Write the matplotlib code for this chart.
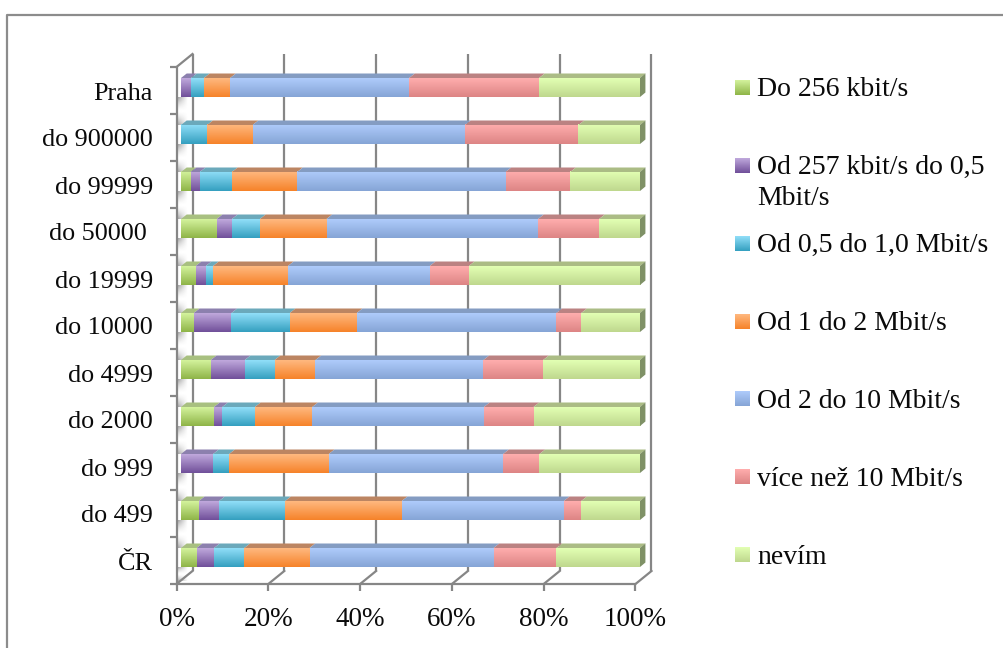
import numpy as np
import matplotlib
matplotlib.use('Agg')
import matplotlib.pyplot as plt
from matplotlib.colors import LinearSegmentedColormap
from matplotlib.lines import Line2D
from matplotlib.patches import Polygon

plt.rcParams['font.family'] = ['Liberation Serif', 'DejaVu Serif']

# data, bottom row first
categories = ['ČR', 'do 499', 'do 999', 'do 2000', 'do 4999', 'do 10000', 'do 19999',
              'do 50000 ', 'do 99999', 'do 900000', 'Praha']
do_256 = [3.4, 3.9, 0, 7.2, 6.5, 2.8, 3.2, 7.8, 2.1, 0, 0]
od_257 = [3.8, 4.4, 7.0, 1.8, 7.4, 8.2, 2.2, 3.3, 2.0, 0, 2.2]
od_05 = [6.6, 14.4, 3.5, 7.1, 6.5, 12.7, 1.6, 6.1, 7.0, 5.7, 2.8]
od_1 = [14.2, 25.4, 21.7, 12.5, 8.9, 14.6, 16.3, 14.5, 14.2, 9.9, 5.7]
od_2 = [40.1, 35.3, 38.0, 37.4, 36.6, 43.5, 30.9, 46.1, 45.4, 46.3, 39.0]
vice_10 = [13.7, 3.8, 7.9, 10.8, 13.0, 5.4, 8.5, 13.3, 14.1, 24.7, 28.3]
nevim = [18.2, 12.8, 21.9, 23.2, 21.1, 12.8, 37.3, 8.9, 15.2, 13.4, 22.0]

series = [do_256, od_257, od_05, od_1, od_2, vice_10, nevim]
labels = ['Do 256 kbit/s', 'Od 257 kbit/s do 0,5\nMbit/s', 'Od 0,5 do 1,0 Mbit/s', 'Od 1 do 2 Mbit/s',
          'Od 2 do 10 Mbit/s', 'více než 10 Mbit/s', 'nevím']
legend_y = [87.5, 165.5, 243.5, 321.5, 399, 477, 555]

# (top of gradient, bottom of gradient, top face)
colors = [('#D3F29C', '#8FB548', '#A8C080'),
          ('#BFA8DC', '#71509A', '#8C80AE'),
          ('#90DEF8', '#35A0C0', '#6BA9BB'),
          ('#FFB87F', '#F6832A', '#BC8562'),
          ('#AECBFB', '#86A5D6', '#849CC2'),
          ('#FFADAD', '#DD8585', '#BB8282'),
          ('#E2FFB3', '#BFD88E', '#ABBC85')]

PX_X = 4.59   # pixels per percent
PX_Y = 47.0   # pixels per row
GREY = '#868686'
TEXT = '#0A0A0A'

fig = plt.figure(figsize=(10.04, 6.48), dpi=100)
ax = fig.add_axes([0, 0, 1, 1])
ax.axis('off')


def dx(px):
    return px / PX_X


def dy(px):
    return px / PX_Y


def grad_rect(x0, x1, y0, y1, c_top, c_bottom, zorder=3):
    cmap = LinearSegmentedColormap.from_list('g', [c_top, c_bottom])
    ax.imshow(np.linspace(0, 1, 32).reshape(-1, 1), cmap=cmap, extent=(x0, x1, y0, y1),
              aspect='auto', origin='upper', zorder=zorder, interpolation='bilinear')


# outer frame, only left and top show
fig.add_artist(Line2D([7.5 / 1004, 7.5 / 1004, 1], [0, 1 - 14.5 / 648, 1 - 14.5 / 648], transform=fig.transFigure,
                      color='#8C8C8C', lw=1.6))

# box geometry
front_bottom = -0.5 - dy(3)
front_top = len(categories) - 0.5 - dy(3)
front_x = -dx(4.5)
back_x = dx(11.5)
back_up = dy(13)
ticks = [0, 20, 40, 60, 80, 100]

# back wall grid and floor
for t in ticks:
    ax.plot([t + back_x, t + back_x], [front_bottom + back_up, front_top + back_up], color=GREY, lw=1.6, zorder=1,
            solid_capstyle='butt')
    ax.plot([t + front_x, t + back_x], [front_bottom, front_bottom + back_up], color=GREY, lw=1.6, zorder=1)
    ax.plot([t + front_x, t + front_x], [front_bottom, front_bottom - dy(7)], color=GREY, lw=1.6, zorder=1,
            solid_capstyle='butt')
    ax.text(t + front_x, front_bottom - dy(35), '%d%%' % t, ha='center', va='center', fontsize=19.5, color=TEXT)
ax.plot([front_x, 100 + front_x], [front_bottom, front_bottom], color=GREY, lw=1.6, zorder=1)

# left wall
ax.plot([front_x, front_x], [front_bottom, front_top], color=GREY, lw=1.6, zorder=2, solid_capstyle='butt')
ax.plot([front_x, back_x], [front_top, front_top + back_up], color=GREY, lw=1.6, zorder=2)
for i in range(len(categories) + 1):
    y = front_bottom + i
    ax.plot([front_x - dx(7), front_x], [y, y], color=GREY, lw=1.6, zorder=2, solid_capstyle='butt')

half = 9.5 / PX_Y
rise = dy(4.5)
skew = dx(5.7)

# bar shadows on the side wall, grey by the front edge and fading to white
fade_x = np.linspace(0.75, 0, 16)
fade_y = np.abs(np.linspace(-1, 1, 24)) ** 1.5
shade = np.zeros((24, 16, 4))
shade[..., :3] = 0.55
shade[..., 3] = np.outer(fade_y, fade_x)
for i in range(-1, len(categories) - 1):
    ax.imshow(shade, extent=(dx(-3), dx(7), max(i + half, front_bottom + dy(3)), i + 1 - half), aspect='auto',
              origin='upper', zorder=1.5, interpolation='bilinear')

# stacked bars
for i in range(len(categories)):
    left = 0
    for s, vals in enumerate(series):
        v = vals[i]
        if v == 0:
            continue
        c_top, c_bottom, c_face = colors[s]
        grad_rect(left, left + v, i - half, i + half, c_top, c_bottom)
        ax.add_patch(Polygon([(left, i + half), (left + v, i + half), (left + v + skew, i + half + rise),
                              (left + skew, i + half + rise)], closed=True, facecolor=c_face, edgecolor='none',
                             zorder=3))
        left += v
    # right end of the bar
    ax.add_patch(Polygon([(left, i - half), (left, i + half), (left + skew * 0.95, i + half + rise),
                          (left + skew * 0.95, i - half + rise)], closed=True, facecolor='#7F9166', edgecolor='none',
                         zorder=3))
    ax.text(dx(-28), i - dy(6), categories[i], ha='right', va='center', fontsize=18.8, color=TEXT)

# legend
for s in range(len(series)):
    y = (557.5 - legend_y[s]) / PX_Y
    x0 = (735 - 181) / PX_X
    grad_rect(x0, x0 + dx(15), y - dy(7.5), y + dy(7.5), colors[s][0], colors[s][1])
    lines = labels[s].split('\n')
    for j, line in enumerate(lines):
        ax.text((757 - 181) / PX_X, y - dy(2) - dy(31 * j), line, ha='left', va='center', fontsize=20, color=TEXT)

ax.set_xlim(-181 / PX_X, (1004 - 181) / PX_X)
ax.set_ylim((557.5 - 648) / PX_Y, 557.5 / PX_Y)

fig.savefig('out.png', dpi=100)
